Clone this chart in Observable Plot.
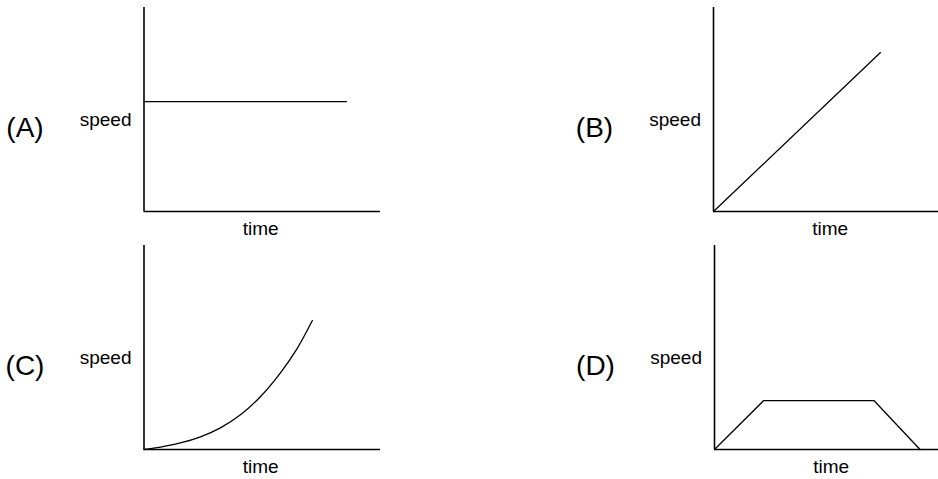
<!DOCTYPE html>
<html>
<head>
<meta charset="utf-8">
<script src="https://cdn.jsdelivr.net/npm/d3@7"></script>
<script src="https://cdn.jsdelivr.net/npm/@observablehq/plot@0.6"></script>
<style>
  html, body { margin: 0; padding: 0; background: #fff; overflow: hidden; }
  #chart { position: relative; width: 938px; height: 479px; overflow: hidden; background: #fff; }
  #chart .panel { position: absolute; }
</style>
</head>
<body>
<div id="chart"></div>
<script>
// ---- data ----
const panelLabels = ["(A)", "(B)", "(C)", "(D)"];
const yLabel = "speed";
const xLabel = "time";

// (A) constant speed
const timeA  = [0, 8.56];
const speedA = [5.39, 5.39];
// (B) uniform acceleration
const timeB  = [0, 7.06];
const speedB = [0, 7.79];
// (C) increasing acceleration
const timeC  = [0, 0.70, 1.54, 2.39, 3.23, 4.08, 4.93, 5.77, 6.48, 7.12];
const speedC = [0, 0.12, 0.32, 0.62, 1.06, 1.70, 2.60, 3.76, 4.96, 6.32];
// (D) accelerate, constant, decelerate
const timeD  = [0, 2.08, 6.74, 8.69];
const speedD = [0, 2.4, 2.4, 0];

const rows = (t, s) => t.map((d, i) => ({time: d, speed: s[i]}));

const font = "'Liberation Sans', Arial, Helvetica, sans-serif";

function panel({label, t, s, curve, left, top, width, height, ml, mr, mt, mb}) {
  const svg = Plot.plot({
    width, height,
    marginLeft: ml, marginRight: mr, marginTop: mt, marginBottom: mb,
    x: {domain: [0, 10], axis: null},
    y: {domain: [0, 10], axis: null},
    style: {fontFamily: font, background: "transparent", color: "#000"},
    marks: [
      Plot.ruleX([0], {stroke: "#000", strokeWidth: 1.6}),
      Plot.ruleY([0], {stroke: "#000", strokeWidth: 1.6}),
      Plot.line(rows(t, s), {x: "time", y: "speed", curve, stroke: "#000", strokeWidth: 1.3}),
      Plot.text([yLabel], {text: d => d, frameAnchor: "left", textAnchor: "end", lineAnchor: "bottom",
        dx: -12.5, dy: 16.5, fontSize: 19, fill: "#000"}),
      Plot.text([label], {text: d => d, frameAnchor: "left", textAnchor: "middle", lineAnchor: "bottom",
        dx: -119, dy: 27, fontSize: 28, fill: "#000"}),
      Plot.text([xLabel], {text: d => d, frameAnchor: "bottom", textAnchor: "middle", lineAnchor: "bottom",
        dx: -1.5, dy: 23, fontSize: 19, fill: "#000"})
    ]
  });
  const div = document.createElement("div");
  div.className = "panel";
  div.style.left = left + "px";
  div.style.top = top + "px";
  div.appendChild(svg);
  document.getElementById("chart").appendChild(div);
}

panel({label: panelLabels[0], t: timeA, s: speedA, curve: "linear",
  left: 0, top: 0, width: 469, height: 240, ml: 143.5, mr: 89, mt: 7, mb: 29});
panel({label: panelLabels[1], t: timeB, s: speedB, curve: "linear",
  left: 469, top: 0, width: 469, height: 240, ml: 244, mr: -11.5, mt: 7, mb: 29});
panel({label: panelLabels[2], t: timeC, s: speedC, curve: "catmull-rom",
  left: 0, top: 240, width: 469, height: 239, ml: 143.5, mr: 89, mt: 5, mb: 30});
panel({label: panelLabels[3], t: timeD, s: speedD, curve: "linear",
  left: 469, top: 240, width: 469, height: 239, ml: 245, mr: -12.5, mt: 5, mb: 30});
</script>
</body>
</html>
